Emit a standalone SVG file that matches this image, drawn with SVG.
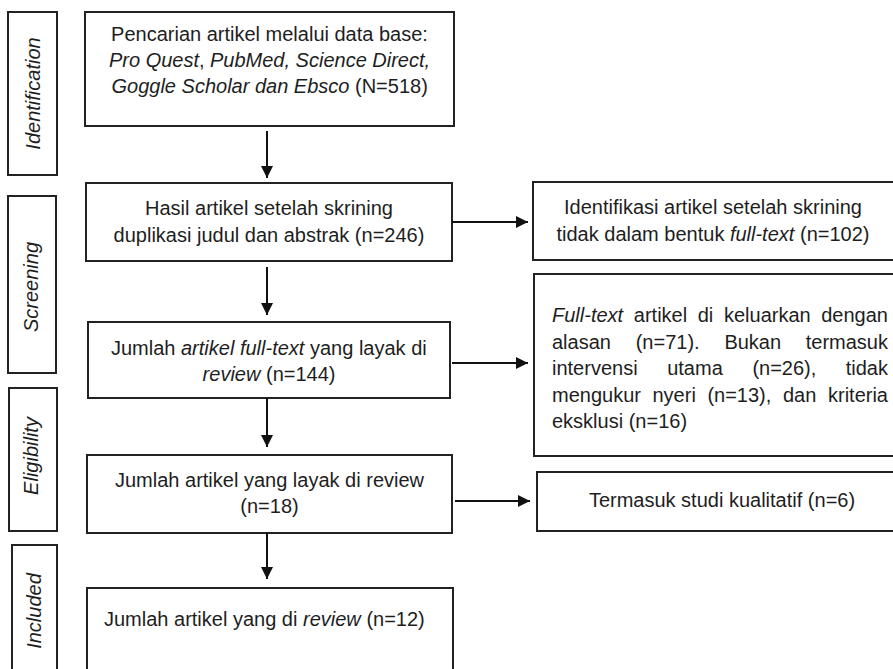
<svg xmlns="http://www.w3.org/2000/svg" width="893" height="669" viewBox="0 0 893 669">
<defs>
<style>
.box{fill:#fff;stroke:#222;stroke-width:2}
.t{font-family:"Liberation Sans",Arial,sans-serif;font-size:20px;fill:#1e1e1e}
.c{text-anchor:middle}
.r{text-anchor:end}
.i{font-style:italic}
.side{font-family:"Liberation Sans",Arial,sans-serif;font-size:20px;font-style:italic;fill:#1e1e1e;text-anchor:middle}
.conn{stroke:#111;stroke-width:2;fill:none}
</style>
<marker id="ah" viewBox="0 0 10 10" refX="10" refY="5" markerWidth="6" markerHeight="6" markerUnits="strokeWidth" orient="auto">
<path d="M0,0 L10,5 L0,10 Z" fill="#111"/>
</marker>
</defs>
<rect width="893" height="669" fill="#fff"/>

<g id="stage-identification">
<rect class="box" x="8" y="12" width="49" height="163"/>
<text class="side" transform="translate(40,93.5) rotate(-90)">Identification</text>
</g>
<g id="stage-screening">
<rect class="box" x="8" y="196" width="48" height="177"/>
<text class="side" transform="translate(38,287) rotate(-90)">Screening</text>
</g>
<g id="stage-eligibility">
<rect class="box" x="9" y="388" width="48" height="143"/>
<text class="side" transform="translate(38,456) rotate(-90)">Eligibility</text>
</g>
<g id="stage-included">
<rect class="box" x="12" y="545" width="45" height="140"/>
<text class="side" transform="translate(41,611) rotate(-90)">Included</text>
</g>

<g id="node-search">
<rect class="box" x="85" y="12" width="369" height="114"/>
<text class="t c" x="269.5" y="41">Pencarian artikel melalui data base:</text>
<text class="t i" x="109" y="67">Pro Quest</text>
<text class="t" x="199" y="67">,</text>
<text class="t i" x="210" y="67">PubMed, Science Direct,</text>
<text class="t i" x="111.5" y="93">Goggle Scholar dan Ebsco</text>
<text class="t" x="355" y="93">(N=518)</text>
</g>

<g id="node-screened">
<rect class="box" x="86" y="183" width="366" height="78"/>
<text class="t c" x="269" y="215">Hasil artikel setelah skrining</text>
<text class="t c" x="269" y="242">duplikasi judul dan abstrak (n=246)</text>
</g>

<g id="node-fulltext">
<rect class="box" x="88" y="322" width="362" height="76"/>
<text class="t" x="111" y="355">Jumlah</text>
<text class="t i" x="181" y="355">artikel full-text</text>
<text class="t" x="310" y="355">yang layak di</text>
<text class="t i" x="202.6" y="381">review</text>
<text class="t" x="266" y="381">(n=144)</text>
</g>

<g id="node-eligible">
<rect class="box" x="87" y="455" width="365" height="78"/>
<text class="t c" x="269.5" y="487">Jumlah artikel yang layak di review</text>
<text class="t c" x="269.5" y="513">(n=18)</text>
</g>

<g id="node-included">
<rect class="box" x="87" y="588" width="366" height="100"/>
<text class="t" x="104" y="626">Jumlah artikel yang di</text>
<text class="t i" x="303" y="626">review</text>
<text class="t" x="366.4" y="626">(n=12)</text>
</g>

<g id="node-excluded-notfull">
<rect class="box" x="533" y="182" width="370" height="78"/>
<text class="t c" x="713" y="214">Identifikasi artikel setelah skrining</text>
<text class="t" x="556.5" y="241">tidak dalam bentuk</text>
<text class="t i" x="729.9" y="241">full-text</text>
<text class="t" x="800" y="241">(n=102)</text>
</g>

<g id="node-excluded-reasons">
<rect class="box" x="534" y="274" width="369" height="182"/>
<text class="t i" x="552" y="322">Full-text</text>
<text class="t" x="633.8" y="322">artikel</text>
<text class="t" x="697.7" y="322">di</text>
<text class="t" x="724" y="322">keluarkan</text>
<text class="t r" x="888" y="322">dengan</text>
<text class="t" x="552" y="348.5">alasan</text>
<text class="t" x="635.7" y="348.5">(n=71).</text>
<text class="t" x="724.4" y="348.5">Bukan</text>
<text class="t r" x="888" y="348.5">termasuk</text>
<text class="t" x="552" y="375">intervensi</text>
<text class="t" x="667.2" y="375">utama</text>
<text class="t" x="752.4" y="375">(n=26),</text>
<text class="t r" x="888" y="375">tidak</text>
<text class="t" x="552" y="401.5">mengukur</text>
<text class="t" x="652.5" y="401.5">nyeri</text>
<text class="t" x="707.4" y="401.5">(n=13),</text>
<text class="t" x="782.9" y="401.5">dan</text>
<text class="t r" x="888" y="401.5">kriteria</text>
<text class="t" x="552" y="428">eksklusi (n=16)</text>
</g>

<g id="node-excluded-qual">
<rect class="box" x="537" y="472" width="366" height="59"/>
<text class="t c" x="722" y="507">Termasuk studi kualitatif (n=6)</text>
</g>

<g id="connectors">
<line class="conn" x1="267" y1="131" x2="267" y2="178" marker-end="url(#ah)"/>
<line class="conn" x1="267" y1="267" x2="267" y2="315" marker-end="url(#ah)"/>
<line class="conn" x1="267" y1="398" x2="267" y2="447" marker-end="url(#ah)"/>
<line class="conn" x1="267" y1="533" x2="267" y2="579" marker-end="url(#ah)"/>
<line class="conn" x1="452" y1="222" x2="528" y2="222" marker-end="url(#ah)"/>
<line class="conn" x1="452" y1="363" x2="528" y2="363" marker-end="url(#ah)"/>
<line class="conn" x1="455" y1="501" x2="530" y2="501" marker-end="url(#ah)"/>
</g>
</svg>
